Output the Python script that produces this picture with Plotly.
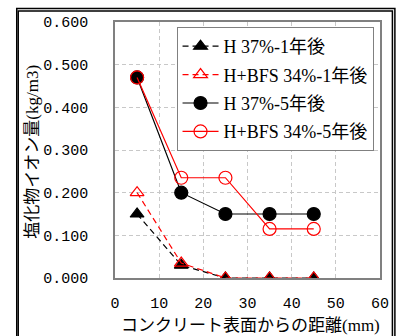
import plotly.graph_objects as go

distance = [5, 15, 25, 35, 45]
h37_1y = [0.15, 0.03, 0.0, 0.0, 0.0]
hbfs34_1y = [0.20, 0.035, 0.0, 0.0, 0.0]
h37_5y = [0.47, 0.20, 0.15, 0.15, 0.15]
hbfs34_5y = [0.47, 0.235, 0.235, 0.115, 0.115]
names = ["H 37%-1年後", "H+BFS 34%-1年後", "H 37%-5年後", "H+BFS 34%-5年後"]
y_ticks = [0, 0.1, 0.2, 0.3, 0.4, 0.5, 0.6]
y_ticktext = ["0.000", "0.100", "0.200", "0.300", "0.400", "0.500", "0.600"]
x_ticks = [0, 10, 20, 30, 40, 50, 60]

W, H = 401, 336
L, R, T, B = 115, 19, 22, 58
pw, ph = W - L - R, H - T - B

def px(x):
    return (x - L) / pw

def py(y):
    return (H - B - y) / ph

jp = "Liberation Serif, Noto Sans CJK JP, serif"
num = "Liberation Mono, monospace"

fig = go.Figure()
styles = [
    dict(color="black", dash="6px,4px", symbol="triangle-up", fill="black", size=12),
    dict(color="red", dash="6px,4px", symbol="triangle-up-open", fill="red", size=12),
    dict(color="black", dash="solid", symbol="circle", fill="black", size=13),
    dict(color="red", dash="solid", symbol="circle-open", fill="red", size=13),
]
for i, (name, ys, st) in enumerate(zip(names, [h37_1y, hbfs34_1y, h37_5y, hbfs34_5y], styles)):
    fig.add_trace(go.Scatter(
        x=distance, y=ys, name=name, mode="lines+markers",
        legendgroup=f"g{i}",
        line=dict(color=st["color"], width=1.2, dash=st["dash"]),
        marker=dict(symbol=st["symbol"], size=st["size"], color=st["fill"],
                    line=dict(color=st["color"], width=1.2)),
    ))

fig.update_layout(
    width=W, height=H,
    margin=dict(l=L, r=R, t=T, b=B),
    paper_bgcolor="white", plot_bgcolor="white",
    showlegend=True,
    legend=dict(
        x=px(177), y=py(27), xanchor="left", yanchor="top",
        bgcolor="white", bordercolor="#808080", borderwidth=1,
        font=dict(family=jp, size=18, color="black"),
        tracegroupgap=2, traceorder="grouped",
        itemwidth=36,
    ),
    xaxis=dict(
        range=[0, 60], tickvals=x_ticks, ticks="",
        showgrid=True, gridcolor="#c8c8c8", griddash="4px,3px", gridwidth=1,
        showline=True, linecolor="#808080", linewidth=1.5, mirror=True,
        zeroline=False,
        tickfont=dict(family=num, size=15, color="black"),
        ticklabelstandoff=10,
    ),
    yaxis=dict(
        range=[0, 0.6], tickvals=y_ticks, ticktext=y_ticktext, ticks="",
        showgrid=True, gridcolor="#c8c8c8", griddash="4px,3px", gridwidth=1,
        showline=True, linecolor="#808080", linewidth=1.5, mirror=True,
        zeroline=False,
        tickfont=dict(family=num, size=15, color="black"),
        ticklabelstandoff=22,
    ),
    annotations=[
        dict(text="コンクリート表面からの距離(mm)", xref="paper", yref="paper",
             x=px(252), y=py(325), xanchor="center", yanchor="middle",
             showarrow=False, font=dict(family=jp, size=17, color="black")),
        dict(text="塩化物イオン量(kg/m3)", xref="paper", yref="paper",
             x=px(31), y=py(152), xanchor="center", yanchor="middle",
             textangle=-90, showarrow=False,
             font=dict(family=jp, size=17, color="black")),
    ],
    shapes=[
        dict(type="rect", xref="paper", yref="paper",
             x0=px(16), x1=px(397), y0=py(345), y1=py(8.5),
             line=dict(color="black", width=1.5), layer="above"),
        dict(type="rect", xref="paper", yref="paper",
             x0=px(17.5), x1=px(394.5), y0=py(345), y1=py(11),
             line=dict(color="black", width=1.5), layer="above"),
    ],
)

fig.write_html(
    "out.html",
    config={"displayModeBar": False},
    post_script="document.body.style.margin='0';document.body.style.overflow='hidden';",
)
